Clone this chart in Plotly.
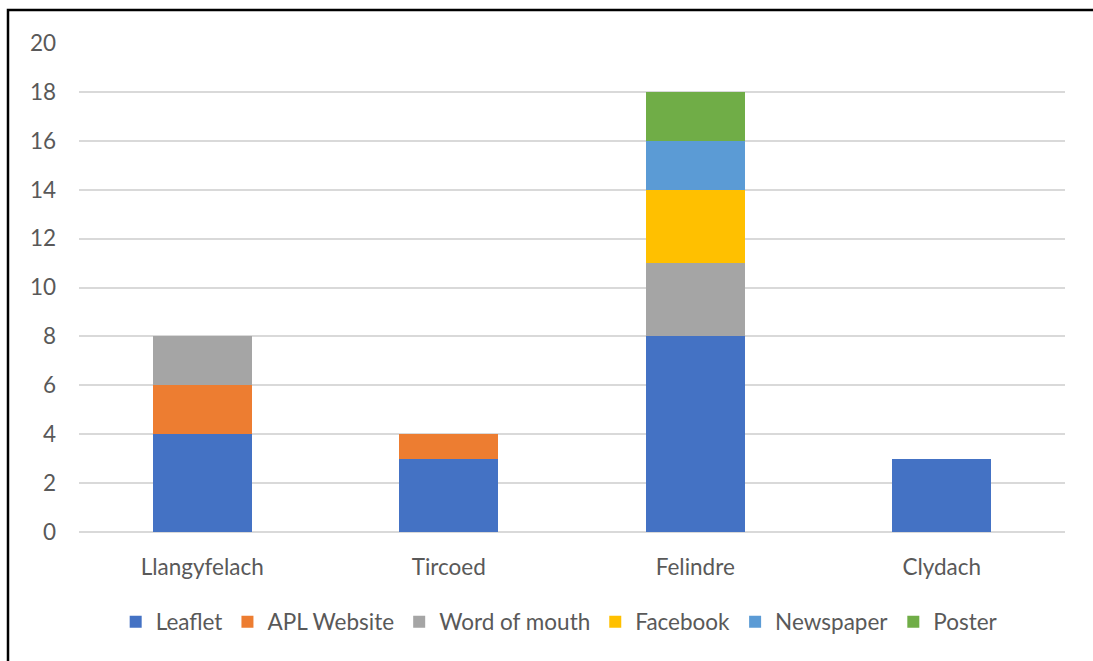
import plotly.graph_objects as go

categories = ["Llangyfelach", "Tircoed", "Felindre", "Clydach"]
series_names = ["Leaflet", "APL Website", "Word of mouth", "Facebook", "Newspaper", "Poster"]
leaflet = [4, 3, 8, 3]
apl_website = [2, 1, 0, 0]
word_of_mouth = [2, 0, 3, 0]
facebook = [0, 0, 3, 0]
newspaper = [0, 0, 2, 0]
poster = [0, 0, 2, 0]
y_ticks = [0, 2, 4, 6, 8, 10, 12, 14, 16, 18, 20]

series_values = [leaflet, apl_website, word_of_mouth, facebook, newspaper, poster]
colors = ["#4472C4", "#ED7D31", "#A5A5A5", "#FFC000", "#5B9BD5", "#70AD47"]

fig = go.Figure()
for name, vals, col in zip(series_names, series_values, colors):
    fig.add_trace(go.Bar(x=categories, y=vals, name=name,
                         marker=dict(color=col, line=dict(width=0))))

W, H = 1093, 661
L, R, T, B = 79, 28, 43, 129
pw, ph = W - L - R, H - T - B

font = dict(family="Lato, 'Open Sans', sans-serif", size=22.5, color="#595959")
fig.update_layout(
    width=W, height=H,
    barmode="stack", bargap=0.6,
    margin=dict(l=L, r=R, t=T, b=B),
    paper_bgcolor="white", plot_bgcolor="white",
    font=font,
    xaxis=dict(showgrid=False, showline=False, ticks="", tickfont=font,
               ticklabelstandoff=19),
    yaxis=dict(range=[0, 20], tickvals=y_ticks, showgrid=True, gridcolor="#D9D9D9",
               gridwidth=2, zeroline=True, zerolinecolor="#D9D9D9", zerolinewidth=2,
               ticks="", ticklabelstandoff=22, tickfont=font),
    legend=dict(orientation="h", x=0.487, xanchor="center", y=-(622 - 532) / ph,
                yanchor="middle", traceorder="normal", font=font,
                itemwidth=30),
    showlegend=True,
)
# outer chart frame (top and left edges visible)
fig.add_shape(type="rect", xref="paper", yref="paper",
              x0=(8 - L) / pw, x1=(W + 20 - L) / pw,
              y0=-(H + 20 - T - ph) / ph, y1=(T + ph - 10) / ph,
              line=dict(color="black", width=2.5), fillcolor="rgba(0,0,0,0)",
              layer="above")
fig.write_html("out.html", config={"displayModeBar": False},
               post_script="document.body.style.margin='0';document.body.style.overflow='hidden';")
